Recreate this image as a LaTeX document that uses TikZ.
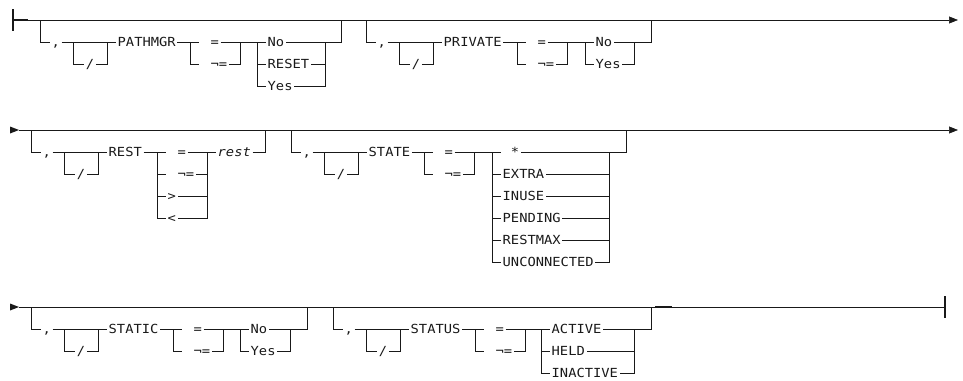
\documentclass[tikz,border=0pt]{standalone}
\usepackage{fontspec}
\newfontfamily\railfont[FakeStretch=1.1]{DejaVu Sans Mono}
\usetikzlibrary{arrows.meta,positioning}

% keyword lead-in: bracket, comma, slash loop, keyword, = / not= box
% #1 name, #2 left x, #3 main line y, #4 keyword, #5 left x of = box
\newcommand{\rrlead}[5]{
  \coordinate (#1t) at (#2,#3);
  \coordinate (#1p) at (#2+33,#3+22);
  \coordinate (#1q) at (#2+67,#3+22);
  \node[word] (#1c) at (#2+10,#3+22) {,};
  \node[word, anchor=center] (#1s) at (#2+50,#3+44) {/};
  \node[word] (#1k) at (#2+76,#3+22) {#4};
  \draw[rail] (#1t) |- (#1c.west);
  \draw[rail] (#1c.east) -- (#1k.west);
  \draw[rail] (#1p) |- (#1s.west);
  \draw[rail] (#1s.east) -| (#1q);
  \coordinate (#1l) at (#5,#3+22);
  \coordinate (#1m) at (#5+9,#3+22);
  \coordinate (#1r) at (#5+50,#3+22);
  \node[word] (#1e) at (#5+19,#3+22) {=};
  \node[word] (#1n) at (#5+19,#3+44) {¬=};
  \draw[rail] (#1k.east) -- (#1m);
  \draw[rail] (#1l) |- (#1m |- #1n);
  \draw[rail] (#1e.east) -- (#1r) |- (#1n.east);
}

% stack of values
% #1 name, #2 left bar x, #3 right bar x, #4 first row y, #5 bracket x, #6 values, #7 main line y
\newcommand{\rrvals}[7]{
  \coordinate (#1l) at (#2,#4);
  \coordinate (#1r) at (#3,#4);
  \foreach \t [count=\i from 0] in {#6} {
    \node[word] (#1\i) at (#2+9,#4+22*\i) {\t};
    \draw[rail] (#1l) |- (#1\i.west);
    \draw[rail] (#1r) |- (#1\i.east);
  }
  \draw[rail] (#1r) -| (#5,#7);
}

\begin{document}
\begin{tikzpicture}[x=1pt,y=-1pt]

\tikzset{
  rail/.style={draw=black!90, line width=0.6pt},
  bar/.style={draw=black!90, line width=1.4pt},
  railhead/.style={fill=black!90},
  word/.style={font={\fontsize{12.5pt}{14pt}\railfont}, text=black!90,
               anchor=west, inner xsep=1.5pt, inner ysep=0pt,
               text height=9.1pt, text depth=0pt},
  endtip/.style={-{Triangle[length=9pt,width=7pt]}}
}

\useasboundingbox (0,0) rectangle (963,380);

% Row 1
\coordinate (a1) at (13,20);
\coordinate (z1) at (958,20);
\draw[rail, endtip] (a1) -- (z1);
\draw[bar] (13,9) -- (13,31);
\draw[bar] (a1) -- (28,20);

\rrlead{pm}{40}{20}{PATHMGR}{190}
\rrvals{pmv}{257}{325}{42}{341}{No,RESET,Yes}{20}
\draw[rail] (pmr) -- (pmvl);

\rrlead{pv}{366}{20}{PRIVATE}{517}
\rrvals{pvv}{585}{634}{42}{651}{No,Yes}{20}
\draw[rail] (pvr) -- (pvvl);

% Row 2
\coordinate (a2) at (19,130);
\coordinate (z2) at (958,130);
\fill[railhead] (10,126.5) -- (a2) -- (10,133.5) -- cycle;
\draw[rail, endtip] (a2) -- (z2);

\rrlead{rs}{31}{130}{REST}{157}
\node[word] (rsg) at (166,196) {>};
\node[word] (rsh) at (166,218) {<};
\draw[rail] (rsl) |- (rsg.west);
\draw[rail] (rsl) |- (rsh.west);
\draw[rail] (rsr) |- (rsg.east);
\draw[rail] (rsr) |- (rsh.east);
\node[word, font={\fontsize{12.5pt}{14pt}\railfont\itshape}] (rsx) at (216,152) {rest};
\draw[rail] (rsr) -- (rsx.west);
\draw[rail] (rsx.east) -| (265,130);

\rrlead{st}{291}{130}{STATE}{424}
\rrvals{stv}{492}{609}{152}{626}{{\phantom{*}*},EXTRA,INUSE,PENDING,RESTMAX,UNCONNECTED}{130}
\draw[rail] (str) -- (stvl);

% Row 3
\coordinate (a3) at (19,307);
\coordinate (z3) at (945,307);
\fill[railhead] (10,303.5) -- (a3) -- (10,310.5) -- cycle;
\draw[rail] (a3) -- (z3);
\draw[bar] (945,296) -- (945,318);
\draw[bar] (655,307) -- (672,307);

\rrlead{sc}{31}{307}{STATIC}{173}
\rrvals{scv}{240}{290}{329}{307}{No,Yes}{307}
\draw[rail] (scr) -- (scvl);

\rrlead{su}{333}{307}{STATUS}{475}
\rrvals{suv}{541}{634}{329}{651}{ACTIVE,HELD,INACTIVE}{307}
\draw[rail] (sur) -- (suvl);

\end{tikzpicture}
\end{document}
